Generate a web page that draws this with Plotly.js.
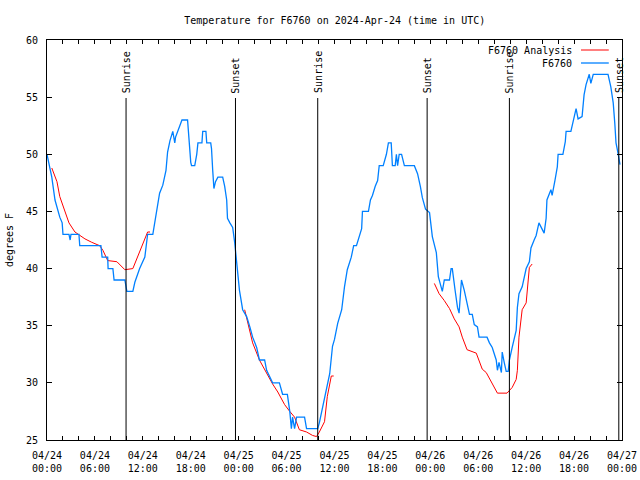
<!DOCTYPE html>
<html>
<head>
<meta charset="utf-8">
<script src="https://cdn.plot.ly/plotly-3.0.1.min.js"></script>
<style>html,body{margin:0;padding:0;background:#fff;}#chart{width:640px;height:480px;}</style>
</head>
<body>
<div id="chart"></div>
<script>
// Hours since 2024-04-24 00:00 UTC
const obsHours = [0,0.25,0.6,1,1.4,1.6,1.9,2,2.75,2.9,3,4,4.1,6.75,6.9,7.6,7.65,8.25,8.4,9.75,10,10.75,11,11.6,12.25,12.6,13.25,13.5,13.75,14.1,14.5,14.9,15.1,15.4,15.75,16,16.1,16.4,16.9,17.6,17.75,18,18.1,18.5,18.75,18.9,19.4,19.5,19.9,20,20.5,20.6,20.75,20.9,21.1,21.4,22,22.25,22.5,22.6,22.9,23.25,23.5,23.75,23.9,24.1,24.5,25,25.4,25.75,26.25,26.6,27.25,27.5,28.25,29.1,29.5,30.1,30.4,30.6,30.75,31,31.25,32.25,32.5,33.9,34.1,34.5,35,35.4,35.75,36,36.4,36.9,37.25,37.6,38.1,38.4,38.75,39.1,39.4,39.5,40.25,40.5,40.75,41.1,41.4,41.6,42.1,42.5,42.75,43.1,43.25,43.6,43.75,43.9,44.1,44.4,44.75,46,46.4,46.75,47,47.4,47.9,48.25,48.75,49,49.4,49.5,49.75,50.4,50.6,50.75,51.1,51.4,51.6,51.9,52.25,52.6,52.9,53.25,53.5,53.9,54.1,55.1,55.4,55.75,56.25,56.4,56.6,56.9,57,57.25,57.5,57.75,57.9,58.25,58.75,58.9,59.1,59.5,60,60.4,60.6,61,61.25,61.6,62,62.25,62.5,62.6,63.1,63.25,63.6,63.9,64,64.6,64.9,65,65.6,65.9,66.25,66.5,67,67.25,67.5,67.9,68.1,68.4,70.25,70.6,70.9,71.1,71.25,71.5,71.75];
const obsTemp = [50,49.1,48,46,45,44.5,44,43,43,42.5,43,43,42,42,41,41,40,40,39,39,38,38,38.8,40,41,43,43,44,45.3,46.6,47.3,48.6,50.2,51.2,52,51,51.5,52,53,53,51.5,49.3,49,49,50,51,51,52,52,51,51,50.5,48.6,47,47.6,48,48,47.2,46,44.4,44,43.6,42.3,40.5,39.6,38.1,36.4,35.8,34.9,34,33.1,32,32,31.1,30,30,29,29,27.5,26,27,26,27,27,26,26,26.5,27.9,29.6,30.8,33.2,33.8,35.2,36.4,38.4,39.9,41,42,42,42.9,43.5,45,45,46,46.4,47.2,47.7,49,49,50,51,51,49,49,50,49,50,50,49,49,48.3,47.2,46.2,45.2,44.9,42.8,41.4,39.3,38.4,38,39,39,40,40,38.1,36.6,36.1,39,38.1,37,36,36,35.1,34.9,34,34,33.5,33.1,32,31.1,31.8,30.9,32.7,31.8,31,31,32,33.1,34.6,36.6,37.8,38.4,40,40.6,41.8,42.5,42.9,44,43.4,43.1,44.4,46,46.9,46.4,47.7,48.9,50,50,51.1,52,52,53,54,53.1,53.3,55.2,56.1,57,56.2,57,57,55.9,54.5,52.7,51,50.1,49.1];

const anaHours = [0.6,1.25,1.6,2.25,2.75,3.5,4.1,4.75,5.6,6.6,7,7.6,8.75,9.4,9.75,10.75,11.6,12.25,12.6,12.9,null,
  24.75,25.4,25.75,26.6,27.5,28.25,28.9,29.75,30.4,31,31.6,32.5,33.25,33.75,34.1,34.75,35.1,35.6,35.9,null,
  48.5,49.1,49.75,50.4,51,51.6,52,52.6,53.75,54.1,54.5,55,55.6,56.4,57.6,58.25,58.75,58.9,59.1,59.5,60,60.4,60.75];
const anaTemp = [48.8,47.6,46.3,44.9,44,43.2,42.9,42.6,42.3,42,41.6,40.7,40.6,40.2,39.9,40,41.5,42.5,43.2,43.2,null,
  36.4,34.6,33.5,32,30.8,29.9,29.2,28.1,27.5,27,25.9,25.7,25.4,25.3,25.7,26.6,28.8,30.6,30.6,null,
  38.7,37.8,37.2,36.5,35.6,34.9,34,32.9,32.6,31.9,31.2,30.9,30.1,29.1,29.1,29.6,30.3,31.1,34,36.4,37,40.1,40.4];

const sunHours = [9.9,23.6,33.9,47.6,57.9,71.6];
const sunLabels = ["Sunrise","Sunset","Sunrise","Sunset","Sunrise","Sunset"];

const xTickVals = [0,6,12,18,24,30,36,42,48,54,60,66,72];
const xTickText = ["04/24<br>00:00","04/24<br>06:00","04/24<br>12:00","04/24<br>18:00",
  "04/25<br>00:00","04/25<br>06:00","04/25<br>12:00","04/25<br>18:00",
  "04/26<br>00:00","04/26<br>06:00","04/26<br>12:00","04/26<br>18:00","04/27<br>00:00"];

const seriesNames = ["F6760 Analysis","F6760"];
const seriesColors = ["#ff0000","#0080ff"];

const FONT = "DejaVu Sans Mono";

const traces = [
  {x: anaHours, y: anaTemp, mode: "lines", name: seriesNames[0], connectgaps: false,
   line: {color: seriesColors[0], width: 1}},
  {x: obsHours, y: obsTemp, mode: "lines", name: seriesNames[1],
   line: {color: seriesColors[1], width: 1.3}}
];

const shapes = [];
const annotations = [];
sunHours.forEach((h, i) => {
  shapes.push({type: "line", xref: "x", yref: "paper", x0: h, x1: h, y0: 0, y1: 0.855,
    line: {color: "#000", width: 1}});
  annotations.push({xref: "x", yref: "paper", x: h, y: 0.862, text: sunLabels[i],
    textangle: -90, showarrow: false, xanchor: "center", yanchor: "bottom",
    font: {family: FONT, size: 10, color: "#000"}});
});
// custom legend (text right-aligned, sample line on right)
const legY = [0.975, 0.9425];
seriesNames.forEach((n, i) => {
  annotations.push({xref: "paper", yref: "paper", x: 0.9165, y: legY[i], text: n,
    showarrow: false, xanchor: "right", yanchor: "middle",
    font: {family: FONT, size: 10, color: "#000"}});
  shapes.push({type: "line", xref: "paper", yref: "paper", x0: 0.9287, x1: 0.977,
    y0: legY[i], y1: legY[i], line: {color: seriesColors[i], width: i === 0 ? 1 : 1.3}});
});

const layout = {
  width: 640, height: 480,
  margin: {l: 47, r: 18, t: 40, b: 40},
  paper_bgcolor: "#fff", plot_bgcolor: "#fff",
  showlegend: false,
  font: {family: FONT, size: 10, color: "#000"},
  title: {text: "Temperature for F6760 on 2024-Apr-24 (time in UTC)", x: 0.523, xanchor: "center",
    y: 0.958, yanchor: "middle", yref: "container", font: {family: FONT, size: 10, color: "#000"}},
  xaxis: {range: [0, 72], tickvals: xTickVals, ticktext: xTickText, ticks: "inside", ticklen: 4,
    tickcolor: "#000", showgrid: false, zeroline: false, showline: true, linecolor: "#000",
    linewidth: 1, mirror: "ticks", tickangle: 0, ticklabelstandoff: 6,
    minor: {dtick: 2, tick0: 0, ticks: "inside", ticklen: 4, tickcolor: "#000", showgrid: false},
    tickfont: {family: FONT, size: 10, color: "#000"}},
  yaxis: {range: [25, 60], dtick: 5, ticks: "inside", ticklen: 5, tickcolor: "#000",
    showgrid: false, zeroline: false, showline: true, linecolor: "#000", linewidth: 1,
    mirror: "ticks", ticksuffix: " ",
    title: {text: "degrees F", standoff: 10, font: {family: FONT, size: 10, color: "#000"}},
    tickfont: {family: FONT, size: 10, color: "#000"}},
  shapes: shapes,
  annotations: annotations
};

Plotly.newPlot("chart", traces, layout, {displayModeBar: false, staticPlot: true});
</script>
</body>
</html>
